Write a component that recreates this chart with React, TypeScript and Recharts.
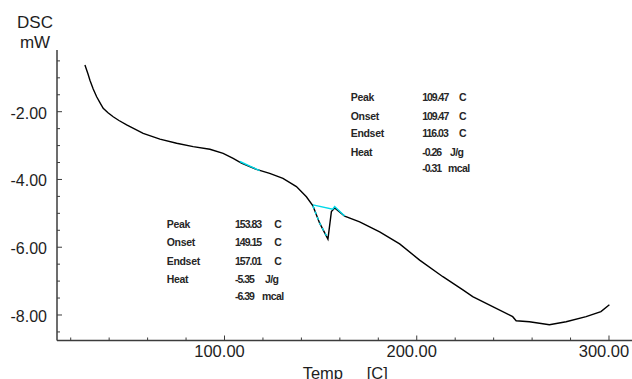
import React from 'react';
import { LineChart, Line, XAxis, YAxis } from 'recharts';

// ---- data ----
const temps = [27.4, 29.0, 30.0, 31.7, 33.5, 35.2, 36.9, 39.4, 42.1, 45.1, 49.1, 57.7, 66.4, 75.1, 83.7, 92.4, 99.3, 104.5, 108.8, 116.6, 123.5, 130.4, 137.4, 142.6, 146.0, 149.5, 153.8, 155.6, 157.3, 162.5, 170.3, 180.7, 191.1, 201.5, 213.6, 224.0, 229.1, 239.5, 249.9, 251.7, 258.6, 269.0, 277.7, 288.1, 295.8, 300.2];
const dscValues = [-0.62, -0.89, -1.07, -1.33, -1.56, -1.73, -1.90, -2.03, -2.15, -2.26, -2.39, -2.64, -2.81, -2.93, -3.03, -3.11, -3.23, -3.38, -3.52, -3.70, -3.82, -3.97, -4.21, -4.51, -4.78, -5.29, -5.76, -4.95, -4.84, -5.08, -5.25, -5.55, -5.90, -6.38, -6.87, -7.26, -7.46, -7.75, -8.05, -8.17, -8.20, -8.29, -8.20, -8.05, -7.90, -7.70];

const base1Temps = [108.0, 118.3];
const base1Values = [-3.47, -3.74];
const base2Temps = [146.0, 156.3, 157.3, 162.5];
const base2Values = [-4.75, -4.88, -4.80, -5.08];
const flankTemps = [146.0, 149.5, 153.6];
const flankValues = [-4.78, -5.29, -5.72];

const xTicks = [20, 40, 60, 80, 100, 120, 140, 160, 180, 200, 220, 240, 260, 280, 300];
const yTicks = [-8.5, -8, -7.5, -7, -6.5, -6, -5.5, -5, -4.5, -4, -3.5, -3, -2.5, -2, -1.5, -1, -0.5];
const X_DOMAIN: [number, number] = [12.87, 321.33];
const Y_DOMAIN: [number, number] = [-8.753, -0.179];

const annotLabels = ['Peak', 'Onset', 'Endset', 'Heat'];
const annot1Values = ['109.47', '109.47', '116.03', '-0.26', '-0.31'];
const annot1Units = ['C', 'C', 'C', 'J/g', 'mcal'];
const annot2Values = ['153.83', '149.15', '157.01', '-5.35', '-6.39'];
const annot2Units = ['C', 'C', 'C', 'J/g', 'mcal'];

const zip = (ts: number[], vs: number[]) => ts.map((t, i) => ({ t, v: vs[i] }));
const mainData = zip(temps, dscValues);
const base1Data = zip(base1Temps, base1Values);
const base2Data = zip(base2Temps, base2Values);
const flankData = zip(flankTemps, flankValues);

const FONT = '"Liberation Sans", Arial, sans-serif';
const TEXT = '#1e1e1e';
const AXIS = '#3c3c3c';

const XTick = (props: any) => {
  const { x, y, payload } = props;
  const v = payload.value as number;
  const major = v % 100 === 0;
  return (
    <g>
      <line x1={x} x2={x} y1={y} y2={y - (major ? 5 : 3)} stroke={AXIS} strokeWidth={1} />
      {major && (
        <text x={x - 5} y={y + 16.5} textAnchor="middle" fontFamily={FONT} fontSize={16.5} fill={TEXT}>
          {v.toFixed(2)}
        </text>
      )}
    </g>
  );
};

const YTick = (props: any) => {
  const { x, y, payload } = props;
  const v = payload.value as number;
  const major = Number.isInteger(v) && v % 2 === 0;
  return (
    <g>
      <line x1={x} x2={x + (major ? 5 : 3)} y1={y} y2={y} stroke={AXIS} strokeWidth={1} />
      {major && (
        <text x={x - 10} y={y + 7} textAnchor="end" fontFamily={FONT} fontSize={16} fill={TEXT}>
          {v.toFixed(2)}
        </text>
      )}
    </g>
  );
};

const XLabel = (props: any) => {
  const vb = props.viewBox || { x: 57, y: 340.5 };
  return (
    <g fontFamily={FONT} fontSize={16.5} fill={TEXT}>
      <text x={vb.x + 245.7} y={vb.y + 38}>Temp</text>
      <text x={vb.x + 309.7} y={vb.y + 38}>[C]</text>
    </g>
  );
};

const YLabel = (props: any) => {
  const vb = props.viewBox || { x: 0, y: 50 };
  return (
    <g fontFamily={FONT} fontSize={17} fill={TEXT} textAnchor="middle">
      <text x={vb.x + 35} y={vb.y - 22}>DSC</text>
      <text x={vb.x + 35} y={vb.y - 2.5}>mW</text>
    </g>
  );
};

type BoxProps = { lx: number; vx: number; ux: number[]; rows: number[]; values: string[]; units: string[] };
const AnnotBox = ({ lx, vx, ux, rows, values, units }: BoxProps) => (
  <g fontFamily={FONT} fontSize={10.5} fontWeight="bold" fill="#262626">
    {annotLabels.map((l, i) => (
      <text key={'l' + i} x={lx} y={rows[i]} letterSpacing={-0.3}>{l}</text>
    ))}
    {values.map((v, i) => (
      <text key={'v' + i} x={vx} y={rows[i]} letterSpacing={-1}>{v}</text>
    ))}
    {units.map((u, i) => (
      <text key={'u' + i} x={ux[i]} y={rows[i]} letterSpacing={-0.6}>{u}</text>
    ))}
  </g>
);

export default function App() {
  return (
    <div style={{ position: 'absolute', left: 0, top: 0, width: 632, height: 379, overflow: 'hidden', background: '#fff' }}>
      <LineChart width={660} height={379} margin={{ top: 50, right: 10, bottom: 8.5, left: 0 }}>
        <XAxis
          xAxisId="main"
          dataKey="t"
          type="number"
          domain={X_DOMAIN}
          allowDataOverflow
          ticks={xTicks}
          interval={0}
          tick={<XTick />}
          tickLine={false}
          tickSize={0}
          tickMargin={0}
          height={30}
          axisLine={{ stroke: AXIS, strokeWidth: 1.5 }}
          label={<XLabel />}
        />
        <XAxis
          xAxisId="top"
          orientation="top"
          type="number"
          dataKey="t"
          domain={X_DOMAIN}
          allowDataOverflow
          height={0}
          tick={false}
          tickLine={false}
          axisLine={{ stroke: AXIS, strokeWidth: 1.5 }}
        />
        <YAxis
          yAxisId="main"
          type="number"
          domain={Y_DOMAIN}
          allowDataOverflow
          ticks={yTicks}
          interval={0}
          tick={<YTick />}
          tickLine={false}
          tickSize={0}
          tickMargin={0}
          width={57}
          axisLine={{ stroke: AXIS, strokeWidth: 1.5 }}
          label={<YLabel />}
        />
        <Line xAxisId="main" yAxisId="main" data={mainData} dataKey="v" type="linear" stroke="#000" strokeWidth={1.4} dot={false} activeDot={false} isAnimationActive={false} />
        <Line xAxisId="main" yAxisId="main" data={base1Data} dataKey="v" type="linear" stroke="#00d8e8" strokeWidth={1.4} dot={false} activeDot={false} isAnimationActive={false} />
        <Line xAxisId="main" yAxisId="main" data={base2Data} dataKey="v" type="linear" stroke="#00d8e8" strokeWidth={1.4} dot={false} activeDot={false} isAnimationActive={false} />
        <Line xAxisId="main" yAxisId="main" data={flankData} dataKey="v" type="linear" stroke="#00d8e8" strokeWidth={1.4} strokeDasharray="3 3" dot={false} activeDot={false} isAnimationActive={false} />
      </LineChart>
      <svg width={632} height={379} style={{ position: 'absolute', left: 0, top: 0, pointerEvents: 'none' }}>
        <AnnotBox lx={350.7} vx={422.2} ux={[459, 459, 459, 450, 448]} rows={[100.7, 120.3, 137.3, 155.7, 172.3]} values={annot1Values} units={annot1Units} />
        <AnnotBox lx={166.7} vx={235} ux={[274.3, 274.3, 274.3, 265, 262]} rows={[227.5, 246, 264.7, 283, 300]} values={annot2Values} units={annot2Units} />
      </svg>
    </div>
  );
}
